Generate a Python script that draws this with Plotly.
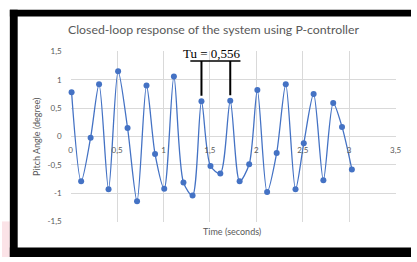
import plotly.graph_objects as go

# Data
time_s = [0.01, 0.113, 0.215, 0.306, 0.408, 0.511, 0.613, 0.715, 0.817, 0.909,
          1.008, 1.112, 1.215, 1.313, 1.409, 1.506, 1.612, 1.719, 1.82, 1.923,
          2.011, 2.116, 2.219, 2.317, 2.422, 2.511, 2.617, 2.722, 2.828, 2.923, 3.029]
pitch_deg = [0.78, -0.79, -0.02, 0.92, -0.93, 1.15, 0.15, -1.14, 0.90, -0.31,
             -0.92, 1.06, -0.81, -1.04, 0.62, -0.52, -0.65, 0.63, -0.79, -0.49,
             0.82, -0.98, -0.29, 0.92, -0.93, -0.12, 0.75, -0.77, 0.59, 0.17, -0.58]
x_tick_vals = [0, 0.5, 1, 1.5, 2, 2.5, 3, 3.5]
x_tick_text = ["0", "0,5", "1", "1,5", "2", "2,5", "3", "3,5"]
y_tick_vals = [-1.5, -1, -0.5, 0, 0.5, 1, 1.5]
y_tick_text = ["-1,5", "-1", "-0,5", "0", "0,5", "1", "1,5"]
tu_label = "Tu = 0,556"
tu_start_idx = 14
tu_end_idx = 17

W, H = 417, 262
GRAY = "#595959"
GRID = "#d9d9d9"
FONT = "Lato"

fig = go.Figure()
fig.add_trace(go.Scatter(
    x=time_s, y=pitch_deg, mode="lines+markers",
    line=dict(color="#4472C4", width=1.3, shape="spline", smoothing=0.8),
    marker=dict(color="#4472C4", size=6),
    showlegend=False, cliponaxis=False,
))

px_left, px_right, px_top, px_bot = 70, 401.3, 48.3, 225.2
ymin, ymax = -1.5, 1.5
yd0 = 1 - px_bot / H
yd1 = 1 - px_top / H
zero_pos = yd0 + (0 - ymin) / (ymax - ymin) * (yd1 - yd0)

fig.update_layout(
    width=W, height=H,
    margin=dict(l=0, r=0, t=0, b=0),
    paper_bgcolor="white", plot_bgcolor="white",
    font=dict(family=FONT, color=GRAY),
    xaxis=dict(
        domain=[px_left / W, px_right / W], range=[0, 3.5],
        anchor="free", position=zero_pos,
        tickvals=x_tick_vals, ticktext=x_tick_text,
        tickfont=dict(size=8, color=GRAY), ticklabelstandoff=7,
        showgrid=True, gridcolor=GRID, gridwidth=1,
        zeroline=False, showline=False, ticks="",
    ),
    yaxis=dict(
        domain=[yd0, yd1], range=[ymin, ymax],
        tickvals=y_tick_vals, ticktext=y_tick_text,
        tickfont=dict(size=8, color=GRAY), ticklabelstandoff=8,
        showgrid=True, gridcolor=GRID, gridwidth=1,
        zeroline=False, showline=False, ticks="",
    ),
)

shapes = [
    # page background patch and black frame
    dict(type="rect", xref="paper", yref="paper", x0=0, x1=8 / W,
         y0=0, y1=1 - 225 / H, fillcolor="#fbe3e7", line=dict(width=0), layer="below"),
    dict(type="rect", xref="paper", yref="paper", x0=8 / W, x1=1,
         y0=1 - 12 / H, y1=1 - 5 / H, fillcolor="#000000", line=dict(width=0)),
    dict(type="rect", xref="paper", yref="paper", x0=8 / W, x1=16 / W,
         y0=0, y1=1 - 5 / H, fillcolor="#000000", line=dict(width=0)),
    dict(type="rect", xref="paper", yref="paper", x0=8 / W, x1=1,
         y0=0, y1=1 - 252 / H, fillcolor="#000000", line=dict(width=0)),
]

# Tu bracket
t0 = time_s[tu_start_idx]
t1 = time_s[tu_end_idx]
top_y = 1.33
for i, t in ((tu_start_idx, t0), (tu_end_idx, t1)):
    shapes.append(dict(type="line", xref="x", yref="y", x0=t, x1=t,
                       y0=pitch_deg[i] + 0.1, y1=top_y, line=dict(color="black", width=2)))
shapes.append(dict(type="line", xref="x", yref="y", x0=t0 - 0.12, x1=t1 + 0.11,
                   y0=top_y, y1=top_y, line=dict(color="black", width=1.5)))
fig.update_layout(shapes=shapes)

annotations = [
    dict(text="Closed-loop response of the system using P-controller",
         xref="paper", yref="paper", x=216 / W, y=1 - 25 / H,
         showarrow=False, font=dict(family=FONT, size=12.3, color=GRAY),
         xanchor="center", yanchor="middle"),
    dict(text="Pitch Angle (degree)", xref="paper", yref="paper",
         x=35 / W, y=1 - 137 / H, textangle=-90, showarrow=False,
         font=dict(family=FONT, size=9, color=GRAY), xanchor="center", yanchor="middle"),
    dict(text="Time (seconds)", xref="paper", yref="paper",
         x=235 / W, y=1 - 236 / H, showarrow=False,
         font=dict(family=FONT, size=9, color=GRAY), xanchor="center", yanchor="middle"),
    dict(text=tu_label, xref="x", yref="y", x=(t0 + t1) / 2 - 0.045, y=top_y,
         showarrow=False, yanchor="bottom", xanchor="center", yshift=-2,
         font=dict(family="Liberation Serif", size=13, color="black")),
]
fig.update_layout(annotations=annotations)

fig.write_html(
    "out.html",
    config={"displayModeBar": False},
    post_script="document.body.style.margin='0';document.body.style.overflow='hidden';",
)
